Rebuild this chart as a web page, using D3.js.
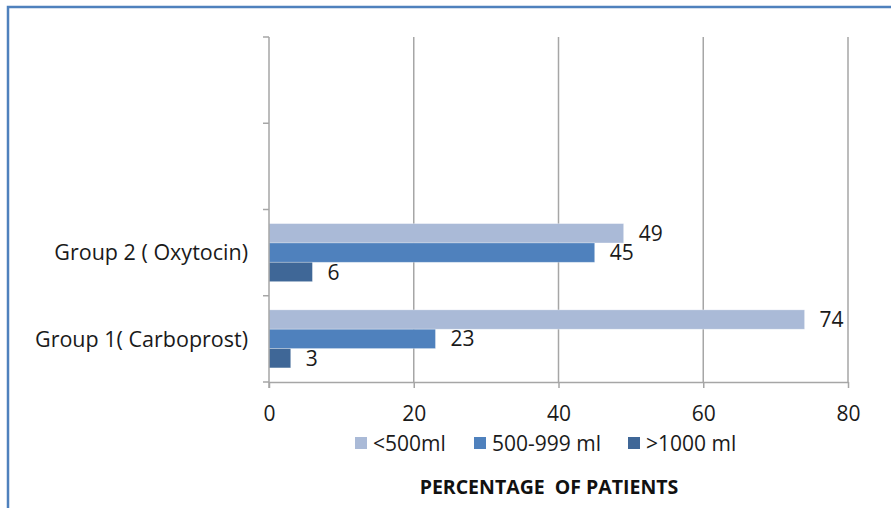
<!DOCTYPE html>
<html>
<head>
<meta charset="utf-8">
<script src="https://cdn.jsdelivr.net/npm/d3@7"></script>
<style>
  body { margin: 0; background: #fff; }
  svg { display: block; font-family: "Open Sans", "Liberation Sans", sans-serif; }
</style>
</head>
<body>
<div id="chart"></div>
<script>
// data
const categories = ["Group 1( Carboprost)", "Group 2 ( Oxytocin)"];
const series = ["<500ml", "500-999 ml", ">1000 ml"];
const lessThan500 = [74, 49];
const from500to999 = [23, 45];
const over1000 = [3, 6];
const xTicks = [0, 20, 40, 60, 80];
const colors = ["#aabad7", "#4f81bd", "#3f6797"];

const values = [lessThan500, from500to999, over1000];

const svg = d3.select("#chart")
    .append("svg")
    .attr("width", 891)
    .attr("height", 508);

// outer frame (left + top edges visible)
svg.append("rect")
    .attr("x", 8)
    .attr("y", 7)
    .attr("width", 900)
    .attr("height", 520)
    .attr("fill", "none")
    .attr("stroke", "#4f81bd")
    .attr("stroke-width", 2.5);

const plotLeft = 269, plotRight = 848, plotTop = 37, plotBottom = 382;
const fontSize = 21;

const x = d3.scaleLinear()
    .domain([0, 80])
    .range([plotLeft, plotRight]);

// two empty slots on top, groups listed bottom-up
const y = d3.scaleBand()
    .domain(["_a", "_b", categories[1], categories[0]])
    .range([plotTop, plotBottom]);

const sub = d3.scaleBand()
    .domain(series)
    .range([0, y.bandwidth()])
    .paddingOuter(0.73)
    .paddingInner(0);

// gridlines
svg.append("g")
    .selectAll("line")
    .data(xTicks.slice(1))
    .enter()
    .append("line")
    .attr("x1", d => x(d))
    .attr("x2", d => x(d))
    .attr("y1", plotTop)
    .attr("y2", plotBottom)
    .attr("stroke", "#a6a6a6")
    .attr("stroke-width", 1.5);

// bars
categories.forEach((cat, ci) => {
    series.forEach((s, si) => {
        const v = values[si][ci];
        const by = y(cat) + sub(s);
        svg.append("rect")
            .attr("x", x(0))
            .attr("y", by)
            .attr("width", x(v) - x(0))
            .attr("height", sub.bandwidth())
            .attr("fill", colors[si])
            .attr("stroke", "#ffffff")
            .attr("stroke-opacity", 0.35)
            .attr("stroke-width", 0.8);
        svg.append("text")
            .attr("x", x(v) + 15)
            .attr("y", by + sub.bandwidth() / 2)
            .attr("dy", "0.36em")
            .attr("font-size", fontSize)
            .attr("fill", "#1a1a1a")
            .text(v);
    });
});

// x axis
const xAxis = svg.append("g")
    .attr("transform", `translate(0,${plotBottom})`)
    .call(d3.axisBottom(x).tickValues(xTicks).tickSize(6).tickSizeOuter(0).tickPadding(18));
xAxis.select(".domain").attr("stroke", "#a6a6a6").attr("stroke-width", 1.5);
xAxis.selectAll(".tick line").attr("stroke", "#a6a6a6").attr("stroke-width", 1.5);
xAxis.selectAll("text").attr("font-size", fontSize).attr("fill", "#1a1a1a").attr("font-family", "Open Sans, sans-serif");

// y axis with ticks at band boundaries
const yAxis = svg.append("g")
    .attr("transform", `translate(${plotLeft},0)`);
yAxis.append("line")
    .attr("x1", 0).attr("x2", 0)
    .attr("y1", plotTop).attr("y2", plotBottom + 6)
    .attr("stroke", "#a6a6a6")
    .attr("stroke-width", 1.5);
yAxis.selectAll(".btick")
    .data(y.domain())
    .enter()
    .append("line")
    .attr("class", "btick")
    .attr("x1", -6).attr("x2", 0)
    .attr("y1", d => y(d))
    .attr("y2", d => y(d))
    .attr("stroke", "#a6a6a6")
    .attr("stroke-width", 1.5);
yAxis.append("line")
    .attr("x1", -6).attr("x2", 0)
    .attr("y1", plotBottom).attr("y2", plotBottom)
    .attr("stroke", "#a6a6a6")
    .attr("stroke-width", 1.5);
yAxis.selectAll(".clabel")
    .data(categories)
    .enter()
    .append("text")
    .attr("x", -21)
    .attr("y", d => y(d) + y.bandwidth() / 2)
    .attr("dy", "0.36em")
    .attr("text-anchor", "end")
    .attr("font-size", 21.5)
    .attr("fill", "#1a1a1a")
    .text(d => d);

// legend
const legendX = [355, 474, 628];
const legend = svg.append("g");
series.forEach((s, i) => {
    legend.append("rect")
        .attr("x", legendX[i])
        .attr("y", 437)
        .attr("width", 12)
        .attr("height", 12)
        .attr("fill", colors[i]);
    legend.append("text")
        .attr("x", legendX[i] + 18)
        .attr("y", 443)
        .attr("dy", "0.36em")
        .attr("font-size", fontSize)
        .attr("fill", "#1a1a1a")
        .text(s);
});

// axis title
svg.append("text")
    .attr("x", 549)
    .attr("y", 487)
    .attr("dy", "0.36em")
    .attr("text-anchor", "middle")
    .attr("font-size", 19.5)
    .attr("font-weight", "bold")
    .attr("fill", "#111")
    .style("white-space", "pre")
    .text("PERCENTAGE  OF PATIENTS");
</script>
</body>
</html>
